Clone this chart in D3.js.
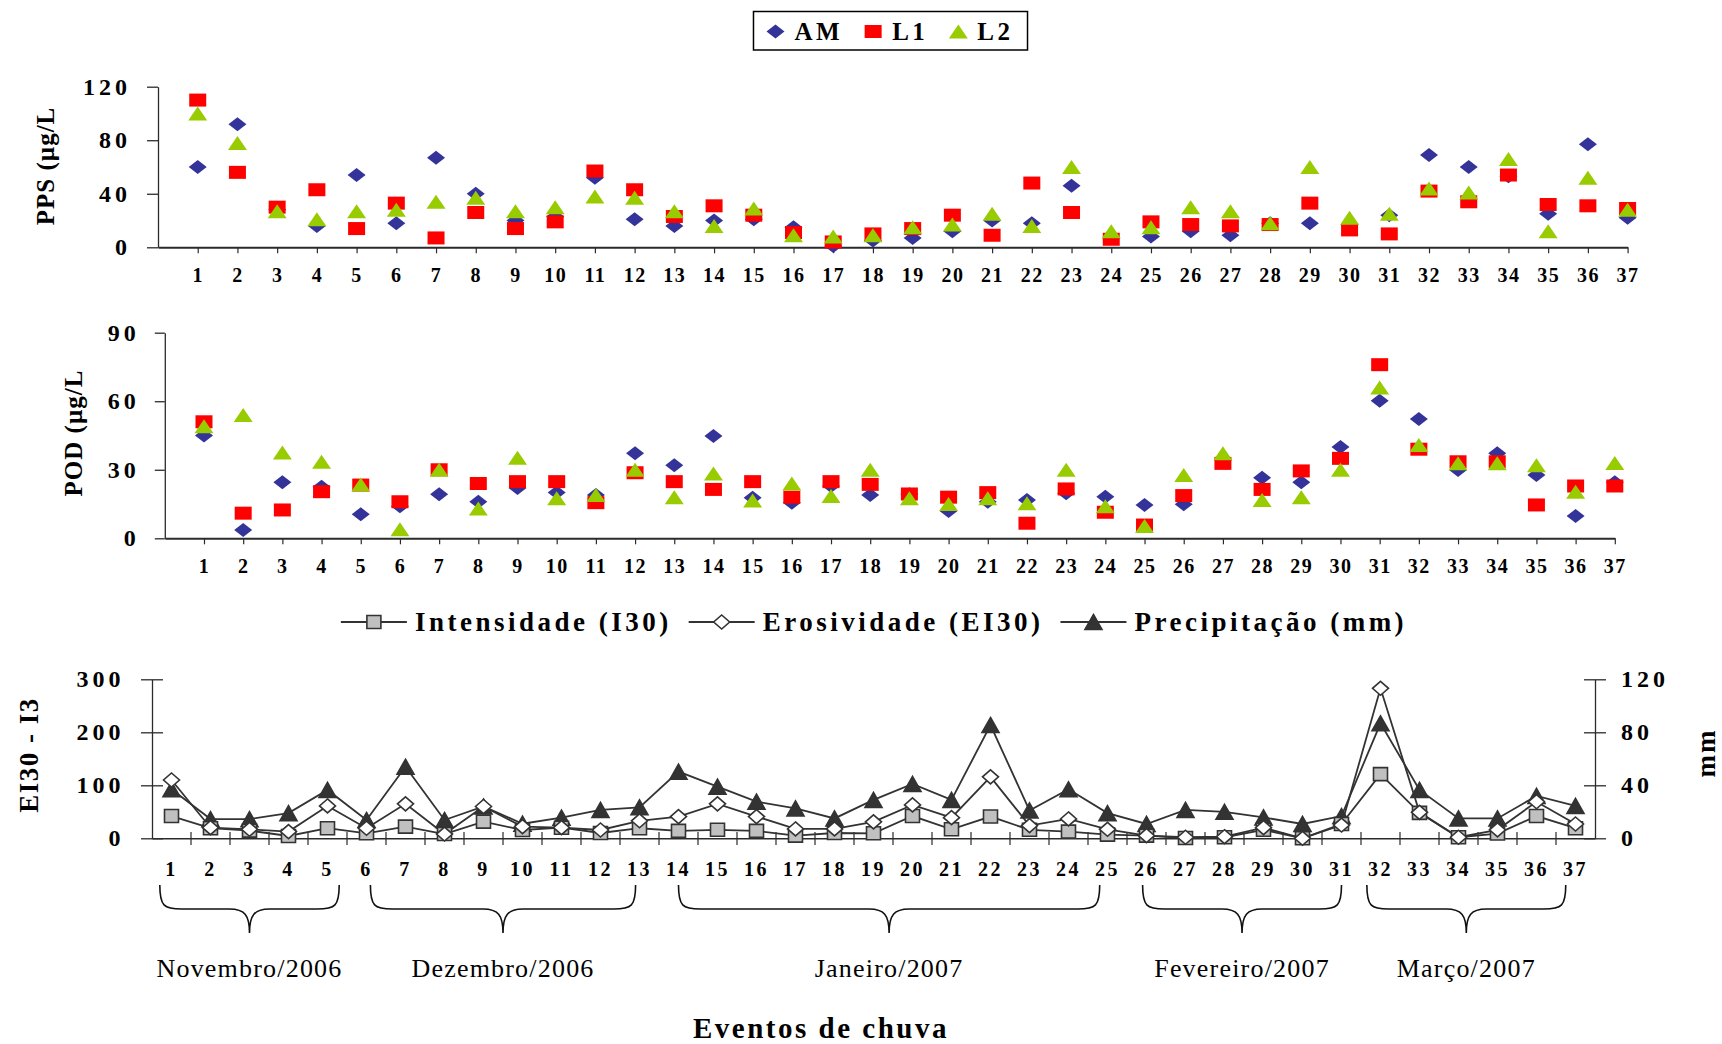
<!DOCTYPE html>
<html>
<head>
<meta charset="utf-8">
<script src="https://cdn.jsdelivr.net/npm/d3@7"></script>
<style>
  body { margin: 0; background: #fff; }
  svg { display: block; font-family: "Liberation Serif", "Times New Roman", serif; }
</style>
</head>
<body>
<svg id="chart" width="1722" height="1044"></svg>
<script>
// ---- Data -------------------------------------------------------------
const eventos = [1,2,3,4,5,6,7,8,9,10,11,12,13,14,15,16,17,18,19,20,21,22,23,24,25,26,27,28,29,30,31,32,33,34,35,36,37];

// PPS (µg/L) per sampling point
const ppsAM = [60,92,28,16,54,18,67,40,20,23,52,21,16,20,21,15,1,5,7,12,20,18,46,7,8,12,9,18,18,17,24,69,60,53,25,77,22];
const ppsL1 = [110,56,30,43,14,33,7,26,14,19,57,43,23,31,24,11,4,10,14,24,9,48,26,6,19,17,16,17,33,13,10,42,34,54,32,31,29];
const ppsL2 = [100,78,27,21,27,28,34,37,27,30,38,37,27,16,29,9,8,9,15,17,25,16,60,12,15,30,27,18,60,22,25,44,41,66,12,52,28];

// POD (µg/L) per sampling point
const podAM = [45,3.6,24.5,22.6,10.5,14,19.3,16,22,20,19,37.2,32,44.8,17.8,15.6,22.9,19,19.3,12,16,16.8,19.7,18.2,14.6,14.9,34.3,26.5,24.5,40,60.2,52.2,29.9,37.2,27.7,9.8,24.5];
const podL1 = [51,11,12.4,20.4,23.3,16,30,24,24.8,24.8,15.6,28.7,24.8,21.4,24.8,18,24.8,23.6,19.4,18,20,6.6,21.6,11.4,5.8,18.7,32.8,21.4,29.5,35,76,39,33.5,33.5,14.6,22.9,22.9];
const podL2 = [49,54,37.6,33.5,23.6,4,30,13,35.3,17.5,19,30,18,28.4,16.5,24,18.5,30,17.5,15,17.5,15.3,30,14,5.4,27.7,37.2,16.8,18,30,66,40.8,32.8,32.8,32,20.4,33];

// Rain events: intensity, erosivity (left axis) and rainfall in mm (right axis)
const intensidade = [42,19,14.5,4.4,19,9.4,22,8,31.4,15.7,20,10,19,14,16,14,5,10,9.4,42,17,41,16,12.6,7,5,0.5,2,16,0,27,121,48,2,9,42,19];
const erosividade = [110,20,17,12.6,61,19,65,8,60,22,20,15.7,33,41,65,41,17.6,17.6,31,63,39,116,24,36.5,17,5,2,3,20,0,25,283,49,2,16,69,27];
const precipitacao = [37,14.5,14.5,19,36.5,13.8,54,13.8,24,11,15.6,21.4,23.4,50.3,39,27.7,22.6,15,29,41,29,85.5,21,37,19,10.8,21.4,20,15.8,10.8,16.8,86.8,36.5,15,15,32,24.4];

// Month groups (first / last event covered by each brace, in event units)
const meses = ["Novembro/2006","Dezembro/2006","Janeiro/2007","Fevereiro/2007","Março/2007"];
const mesInicio = [0.7, 6.1, 14.0, 25.9, 31.65];
const mesFim    = [5.3, 12.9, 24.8, 31.0, 36.75];

const ticksPPS = [0,40,80,120];
const ticksPOD = [0,30,60,90];
const ticksEI = [0,100,200,300];
const ticksMM = [0,40,80,120];

// ---- Helpers ----------------------------------------------------------
const svg = d3.select("#chart");
const INK = "#2b2b2b";

function markerPath(type, w, h) {
  const a = w / 2, b = h / 2;
  if (type === "diamond") return `M0,${-b}L${a},0L0,${b}L${-a},0Z`;
  if (type === "square") return `M${-a},${-b}H${a}V${b}H${-a}Z`;
  return `M0,${-b}L${a},${b}L${-a},${b}Z`;
}

function styleText(sel, size, weight, spacing) {
  sel.style("font-family", '"Liberation Serif", "Times New Roman", serif')
     .style("font-size", size + "px")
     .style("font-weight", weight)
     .style("letter-spacing", spacing + "px")
     .attr("fill", "#000");
}

const seriesTop = [
  { key: "AM", type: "diamond", color: "#333399", w: 18, h: 14 },
  { key: "L1", type: "square",  color: "#ff0000", w: 17, h: 13 },
  { key: "L2", type: "triangle", color: "#99cc00", w: 19, h: 14 }
];

// ---- Scatter panels (PPS and POD) ----------------------------------
function scatterPanel(cfg) {
  const x = d3.scaleLinear().domain([0, eventos.length]).range([cfg.x0, cfg.x1]);
  const y = d3.scaleLinear().domain([0, cfg.max]).range([cfg.y0, cfg.y1]);
  const g = svg.append("g");

  const ax = g.append("g")
    .attr("transform", `translate(0,${cfg.y0})`)
    .call(d3.axisBottom(x).tickValues(eventos).tickSizeInner(6).tickSizeOuter(0).tickPadding(15));
  ax.select(".domain").attr("stroke", INK).attr("stroke-width", 2);
  ax.selectAll(".tick line").attr("stroke", INK).attr("stroke-width", 1.2);
  styleText(ax.selectAll("text"), 20, "bold", 1.5);

  const ay = g.append("g")
    .attr("transform", `translate(${cfg.x0},0)`)
    .call(d3.axisLeft(y).tickValues(cfg.ticks).tickSizeInner(cfg.tick).tickSizeOuter(0).tickPadding(cfg.pad));
  ay.select(".domain").attr("stroke", INK).attr("stroke-width", 1.3);
  ay.selectAll(".tick line").attr("stroke", INK).attr("stroke-width", 1.3);
  styleText(ay.selectAll("text"), 24, "bold", 4);

  cfg.series.forEach((vals, i) => {
    const s = seriesTop[i];
    g.append("g").selectAll("path")
      .data(vals)
      .join("path")
      .attr("d", markerPath(s.type, s.w, s.h))
      .attr("transform", (d, j) => `translate(${x(eventos[j])},${y(d)})`)
      .attr("fill", s.color);
  });

  const t = g.append("text")
    .attr("transform", `translate(${cfg.tx},${cfg.ty}) rotate(-90)`)
    .attr("text-anchor", "middle")
    .attr("dy", "0.35em")
    .text(cfg.title);
  styleText(t, 25, "bold", 1);
}

scatterPanel({
  x0: 158, x1: 1627.6, y0: 247.3, y1: 86.7, max: 120, ticks: ticksPPS,
  tick: 11, pad: 16, series: [ppsAM, ppsL1, ppsL2],
  title: "PPS (µg/L", tx: 45, ty: 166
});
scatterPanel({
  x0: 164.8, x1: 1614.8, y0: 538.3, y1: 332.7, max: 90, ticks: ticksPOD,
  tick: 10, pad: 15, series: [podAM, podL1, podL2],
  title: "POD (µg/L", tx: 73, ty: 433
});

// ---- Legend for the scatter panels -------------------------------
(function () {
  const lg = svg.append("g");
  const box = lg.append("rect").attr("fill", "#fff").attr("stroke", "#000").attr("stroke-width", 1.5);
  const items = lg.append("g");
  let cx = 0;
  seriesTop.forEach(s => {
    items.append("path")
      .attr("d", markerPath(s.type, s.w, s.h))
      .attr("transform", `translate(${cx + 10},31.5)`)
      .attr("fill", s.color);
    const t = items.append("text").attr("x", cx + 29).attr("y", 40).text(s.key);
    styleText(t, 25, "bold", 3.5);
    cx += 29 + t.node().getComputedTextLength() + 20;
  });
  const cw = cx - 20;
  const left = 890.5 - (cw + 26) / 2;
  items.attr("transform", `translate(${left + 12},0)`);
  box.attr("x", left).attr("y", 11.5).attr("width", cw + 26).attr("height", 38.5);
})();

// ---- Rain events panel ------------------------------------------
(function () {
  const xb = d3.scaleBand().domain(eventos).range([152, 1595]).padding(0);
  const bw = xb.bandwidth();
  const cxE = d => xb(d) + bw / 2;
  const evX = d3.scaleLinear().domain([0.5, eventos.length + 0.5]).range([152, 1595]);
  const yl = d3.scaleLinear().domain([0, 300]).range([838.3, 679.3]);
  const yr = d3.scaleLinear().domain([0, 120]).range([838.3, 679.3]);
  const g = svg.append("g");

  // left axis
  const al = g.append("g").attr("transform", "translate(152,0)")
    .call(d3.axisLeft(yl).tickValues(ticksEI).tickSizeInner(11).tickSizeOuter(0).tickPadding(16.5));
  al.select(".domain").attr("stroke", INK).attr("stroke-width", 1.3);
  al.selectAll(".tick line").attr("x2", 11).attr("x1", -11).attr("stroke", INK).attr("stroke-width", 1.3);
  styleText(al.selectAll("text"), 24, "bold", 4);

  // right axis
  const ar = g.append("g").attr("transform", "translate(1595,0)")
    .call(d3.axisRight(yr).tickValues(ticksMM).tickSizeInner(11).tickSizeOuter(0).tickPadding(15));
  ar.select(".domain").attr("stroke", INK).attr("stroke-width", 1.3);
  ar.selectAll(".tick line").attr("x1", -11).attr("x2", 11).attr("stroke", INK).attr("stroke-width", 1.3);
  styleText(ar.selectAll("text"), 24, "bold", 4);

  // bottom axis: labels centred on events, ticks on band edges
  const ab = g.append("g").attr("transform", "translate(0,838.3)")
    .call(d3.axisBottom(xb).tickSize(0).tickPadding(24));
  ab.select(".domain").attr("stroke", INK).attr("stroke-width", 1.5);
  styleText(ab.selectAll("text"), 20, "bold", 2.5);
  g.append("g").selectAll("line")
    .data(eventos.slice(1))
    .join("line")
    .attr("x1", d => xb(d)).attr("x2", d => xb(d))
    .attr("y1", 832).attr("y2", 845)
    .attr("stroke", INK).attr("stroke-width", 1.2);

  const seriesB = [
    { name: "Precipitação (mm)", vals: precipitacao, y: yr, type: "triangle", fill: "#333333", w: 17, h: 15 },
    { name: "Intensidade (I30)", vals: intensidade, y: yl, type: "square", fill: "#c0c0c0", w: 14, h: 13 },
    { name: "Erosividade (EI30)", vals: erosividade, y: yl, type: "diamond", fill: "#ffffff", w: 16, h: 14 }
  ];

  seriesB.forEach(s => {
    const line = d3.line().x((d, j) => cxE(eventos[j])).y(d => s.y(d));
    g.append("path").attr("d", line(s.vals)).attr("fill", "none")
      .attr("stroke", "#333").attr("stroke-width", 1.8);
  });
  seriesB.forEach(s => {
    g.append("g").selectAll("path")
      .data(s.vals)
      .join("path")
      .attr("d", markerPath(s.type, s.w, s.h))
      .attr("transform", (d, j) => `translate(${cxE(eventos[j])},${s.y(d)})`)
      .attr("fill", s.fill).attr("stroke", "#333").attr("stroke-width", 1.6);
  });

  // axis titles
  const tl = g.append("text").attr("transform", "translate(29,755) rotate(-90)")
    .attr("text-anchor", "middle").attr("dy", "0.35em").text("EI30 - I3");
  styleText(tl, 27, "bold", 1.5);
  const tr = g.append("text").attr("transform", "translate(1706,753) rotate(-90)")
    .attr("text-anchor", "middle").attr("dy", "0.35em").text("mm");
  styleText(tr, 27, "bold", 2);

  // legend
  const lg = g.append("g");
  const order = [seriesB[1], seriesB[2], seriesB[0]];
  let cx = 0;
  order.forEach(s => {
    lg.append("line").attr("x1", cx).attr("x2", cx + 66).attr("y1", 622).attr("y2", 622)
      .attr("stroke", "#333").attr("stroke-width", 1.8);
    lg.append("path").attr("d", markerPath(s.type, s.w, s.h))
      .attr("transform", `translate(${cx + 33},622)`)
      .attr("fill", s.fill).attr("stroke", "#333").attr("stroke-width", 1.6);
    const t = lg.append("text").attr("x", cx + 74).attr("y", 631).text(s.name);
    styleText(t, 27, "bold", 3.5);
    cx += 74 + t.node().getComputedTextLength() + 17;
  });
  const lw = cx - 17;
  lg.attr("transform", `translate(${874 - lw / 2},0)`);

  // month braces and labels
  meses.forEach((m, i) => {
    const x0 = evX(mesInicio[i]), x1 = evX(mesFim[i]);
    const tip = (x0 + x1) / 2;
    const top = 885, mid = 909, bot = 933;
    const d = `M${x0},${top} C${x0},${mid - 3} ${x0 + 4},${mid} ${x0 + 22},${mid}` +
      ` L${tip - 20},${mid} C${tip - 5},${mid} ${tip},${mid + 6} ${tip},${bot}` +
      ` C${tip},${mid + 6} ${tip + 5},${mid} ${tip + 20},${mid}` +
      ` L${x1 - 22},${mid} C${x1 - 4},${mid} ${x1},${mid - 3} ${x1},${top}`;
    g.append("path").attr("d", d).attr("fill", "none").attr("stroke", "#111").attr("stroke-width", 1.6);
    const t = g.append("text").attr("x", tip).attr("y", 977).attr("text-anchor", "middle").text(m);
    styleText(t, 26, "normal", 1.2);
  });

  const xt = g.append("text").attr("x", 821).attr("y", 1038).attr("text-anchor", "middle").text("Eventos de chuva");
  styleText(xt, 29, "bold", 2.5);
})();
</script>
</body>
</html>
